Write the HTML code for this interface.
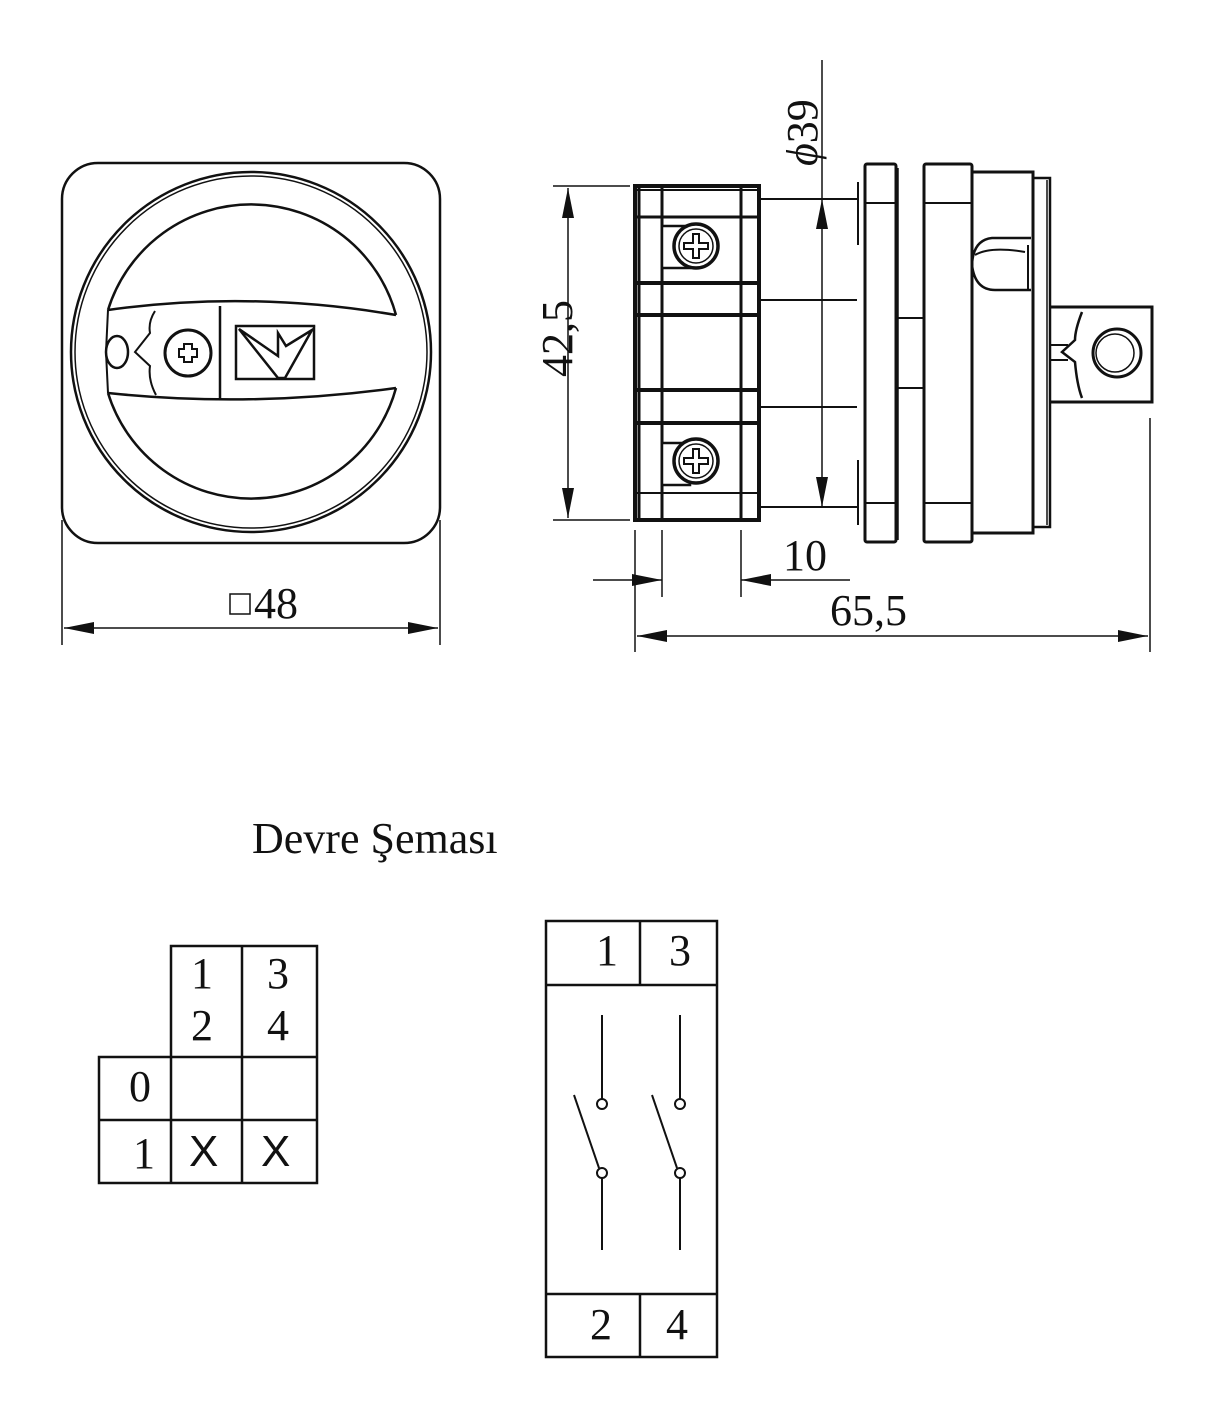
<!DOCTYPE html>
<html><head><meta charset="utf-8"><style>
html,body{margin:0;padding:0;background:#fff;}
svg{display:block;}
text{font-family:"Liberation Serif",serif;fill:#111;}
text.s{font-family:"Liberation Sans",sans-serif;}
</style></head><body>
<svg width="1215" height="1420" viewBox="0 0 1215 1420" xmlns="http://www.w3.org/2000/svg">
<defs>
<marker id="ar" viewBox="0 0 10 4" refX="10" refY="2" markerWidth="30" markerHeight="12" markerUnits="userSpaceOnUse" orient="auto-start-reverse"><path d="M0,0 L10,2 L0,4 z" fill="#111"/></marker>
</defs>
<g fill="none" stroke="#111" stroke-width="2">
<!-- FRONT VIEW -->
<rect x="62" y="163" width="378" height="380" rx="36" stroke-width="2.5"/>
<circle cx="251" cy="352" r="180" stroke-width="2.5"/>
<circle cx="251" cy="352" r="176" stroke-width="1.5"/>
<path d="M108,310 Q250,290 396,315" stroke-width="2.5"/>
<path d="M108,393 Q250,408 396,388" stroke-width="2.5"/>
<path d="M108,310 A150,150 0 0 1 396,315" stroke-width="2.5"/>
<path d="M108,393 A150,150 0 0 0 396,388" stroke-width="2.5"/>
<path d="M108,310 L106,352 L108,393" stroke-width="2"/>
<line x1="220" y1="306" x2="220" y2="400" stroke-width="2.5"/>
<path d="M155,311 Q148,322 150,333 L135,352 L150,366 Q148,380 156,395"/>
<ellipse cx="117" cy="352" rx="11" ry="16" stroke-width="2.5"/>
<circle cx="188" cy="353" r="23" stroke-width="3"/>
<path d="M184,344h8v5h5v8h-5v5h-8v-5h-5v-8h5z" stroke-width="2"/>
<rect x="236" y="326" width="78" height="53" stroke-width="2.5"/>
<path d="M239,329 L278,356 L278,333 L286,346 L312,330 L285,378 L278,378 Z M239,329 L278,378" stroke-width="2.5"/>
<!-- dim 48 -->
<line x1="62" y1="520" x2="62" y2="645" stroke-width="1.5"/>
<line x1="440" y1="520" x2="440" y2="645" stroke-width="1.5"/>
<line x1="64" y1="628" x2="438" y2="628" stroke-width="1.5" marker-start="url(#ar)" marker-end="url(#ar)"/>
<rect x="230" y="594" width="20" height="20" stroke-width="1.5"/>

<!-- SIDE VIEW -->
<rect x="635" y="186" width="124" height="334" stroke-width="4"/>
<line x1="639" y1="186" x2="639" y2="520" stroke-width="3"/>
<line x1="662" y1="186" x2="662" y2="520" stroke-width="3"/>
<line x1="741" y1="186" x2="741" y2="520" stroke-width="3"/>
<line x1="635" y1="190" x2="759" y2="190" stroke-width="2"/>
<line x1="635" y1="217" x2="759" y2="217" stroke-width="3"/>
<line x1="635" y1="283" x2="759" y2="283" stroke-width="4"/>
<line x1="635" y1="315" x2="759" y2="315" stroke-width="4"/>
<line x1="635" y1="390" x2="759" y2="390" stroke-width="4"/>
<line x1="635" y1="423" x2="759" y2="423" stroke-width="4"/>
<line x1="635" y1="493" x2="759" y2="493" stroke-width="2"/>
<rect x="662" y="226" width="28" height="42" fill="#fff" stroke-width="2.5"/>
<circle cx="696" cy="246" r="22" fill="#fff" stroke-width="3.5"/>
<circle cx="696" cy="246" r="17" stroke-width="1.5"/>
<path d="M693,234h6v9h9v6h-9v9h-6v-9h-9v-6h9z" stroke-width="2"/>
<rect x="662" y="443" width="28" height="42" fill="#fff" stroke-width="2.5"/>
<circle cx="696" cy="461" r="22" fill="#fff" stroke-width="3.5"/>
<circle cx="696" cy="461" r="17" stroke-width="1.5"/>
<path d="M693,449h6v9h9v6h-9v9h-6v-9h-9v-6h9z" stroke-width="2"/>
<line x1="759" y1="199" x2="857" y2="199"/>
<line x1="759" y1="300" x2="857" y2="300"/>
<line x1="759" y1="407" x2="857" y2="407"/>
<line x1="759" y1="507" x2="857" y2="507"/>
<rect x="865" y="164" width="31" height="378" rx="2" stroke-width="3"/>
<line x1="858" y1="182" x2="858" y2="245" stroke-width="2"/>
<line x1="858" y1="460" x2="858" y2="525" stroke-width="2"/>
<line x1="865" y1="203" x2="896" y2="203" stroke-width="2"/>
<line x1="865" y1="503" x2="896" y2="503" stroke-width="2"/>
<line x1="898" y1="168" x2="898" y2="540" stroke-width="1.5"/>
<line x1="898" y1="318" x2="923" y2="318"/>
<line x1="898" y1="388" x2="923" y2="388"/>
<rect x="924" y="164" width="48" height="378" rx="2" stroke-width="3"/>
<line x1="924" y1="203" x2="972" y2="203" stroke-width="2"/>
<line x1="924" y1="503" x2="972" y2="503" stroke-width="2"/>
<rect x="972" y="172" width="61" height="361" stroke-width="3"/>
<rect x="1033" y="178" width="17" height="349" stroke-width="2.5"/>
<line x1="1047" y1="180" x2="1047" y2="525" stroke-width="1.5"/>
<path d="M1031,238 L992,238 Q973,240 972,265 Q975,290 995,290 L1031,290" stroke-width="2.5"/>
<path d="M975,255 Q990,246 1025,252" stroke-width="2"/>
<line x1="1028" y1="245" x2="1028" y2="290" stroke-width="2"/>
<path d="M1050,307 L1152,307 L1152,402 L1050,402" stroke-width="3"/>
<path d="M1082,312 Q1075,330 1075,340 L1062,352 L1075,362 Q1077,385 1082,398" stroke-width="2.5"/>
<line x1="1050" y1="345" x2="1068" y2="345" stroke-width="2"/>
<line x1="1050" y1="360" x2="1068" y2="360" stroke-width="2"/>
<circle cx="1117" cy="353" r="24" stroke-width="3"/>
<circle cx="1115" cy="353" r="19" stroke-width="1.5"/>
<!-- dims side -->
<line x1="553" y1="186" x2="630" y2="186" stroke-width="1.5"/>
<line x1="553" y1="520" x2="630" y2="520" stroke-width="1.5"/>
<line x1="568" y1="188" x2="568" y2="518" stroke-width="1.5" marker-start="url(#ar)" marker-end="url(#ar)"/>
<line x1="822" y1="60" x2="822" y2="198" stroke-width="1.5"/>
<line x1="822" y1="199" x2="822" y2="507" stroke-width="1.5" marker-start="url(#ar)" marker-end="url(#ar)"/>
<line x1="635" y1="530" x2="635" y2="652" stroke-width="1.5"/>
<line x1="662" y1="530" x2="662" y2="597" stroke-width="1.5"/>
<line x1="741" y1="530" x2="741" y2="597" stroke-width="1.5"/>
<line x1="1150" y1="418" x2="1150" y2="652" stroke-width="1.5"/>
<line x1="593" y1="580" x2="662" y2="580" stroke-width="1.5" marker-end="url(#ar)"/>
<line x1="850" y1="580" x2="741" y2="580" stroke-width="1.5" marker-end="url(#ar)"/>
<line x1="637" y1="636" x2="1148" y2="636" stroke-width="1.5" marker-start="url(#ar)" marker-end="url(#ar)"/>

<!-- TABLE 1 -->
<path d="M171,946 H317 V1183 H99 V1057 H171 Z" stroke-width="2.5"/>
<line x1="171" y1="1057" x2="317" y2="1057" stroke-width="2.5"/>
<line x1="99" y1="1120" x2="317" y2="1120" stroke-width="2.5"/>
<line x1="171" y1="1057" x2="171" y2="1183" stroke-width="2.5"/>
<line x1="242" y1="946" x2="242" y2="1183" stroke-width="2.5"/>
<!-- TABLE 2 -->
<rect x="546" y="921" width="171" height="436" stroke-width="2.5"/>
<line x1="546" y1="985" x2="717" y2="985" stroke-width="2.5"/>
<line x1="546" y1="1294" x2="717" y2="1294" stroke-width="2.5"/>
<line x1="640" y1="921" x2="640" y2="985" stroke-width="2.5"/>
<line x1="640" y1="1294" x2="640" y2="1357" stroke-width="2.5"/>
<line x1="602" y1="1015" x2="602" y2="1099"/>
<circle cx="602" cy="1104" r="5"/>
<line x1="574" y1="1095" x2="599" y2="1168"/>
<circle cx="602" cy="1173" r="5"/>
<line x1="602" y1="1178" x2="602" y2="1250"/>
<line x1="680" y1="1015" x2="680" y2="1099"/>
<circle cx="680" cy="1104" r="5"/>
<line x1="652" y1="1095" x2="677" y2="1168"/>
<circle cx="680" cy="1173" r="5"/>
<line x1="680" y1="1178" x2="680" y2="1250"/>
</g>
<g font-size="44">
<text x="254" y="618">48</text>
<text x="783" y="570">10</text>
<text x="830" y="625">65,5</text>
<text transform="translate(572,377) rotate(-90)">42,5</text>
<text transform="translate(817,166) rotate(-90)"><tspan font-style="italic">ϕ</tspan>39</text>
<text x="252" y="853">Devre Şeması</text>
<text x="191" y="988">1</text><text x="267" y="988">3</text>
<text x="191" y="1040">2</text><text x="267" y="1040">4</text>
<text x="129" y="1101">0</text>
<text x="133" y="1168">1</text>
<text x="596" y="965">1</text><text x="669" y="965">3</text>
<text x="590" y="1339">2</text><text x="666" y="1339">4</text>
<text class="s" x="189" y="1166">X</text><text class="s" x="261" y="1166">X</text>
</g>
</svg>
</body></html>
